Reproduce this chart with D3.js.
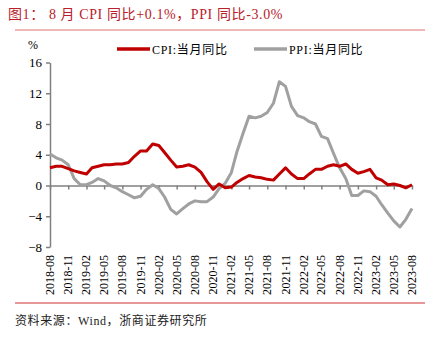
<!DOCTYPE html>
<html>
<head>
<meta charset="utf-8">
<script src="https://cdn.jsdelivr.net/npm/d3@7"></script>
<style>
  body { margin: 0; background: #fff; }
  text { font-family: "Liberation Serif", "Noto Sans CJK SC", serif; }
</style>
</head>
<body>
<div id="chart"></div>
<script>
// données : CPI et PPI, glissement annuel (%), 2018-08 -> 2023-08
const months = d3.timeMonths(new Date(2018, 7, 1), new Date(2023, 8, 1));
const cpi = [2.3, 2.5, 2.5, 2.2, 1.9,
  1.7, 1.5, 2.3, 2.5, 2.7, 2.7, 2.8, 2.8, 3.0, 3.8, 4.5, 4.5,
  5.4, 5.2, 4.3, 3.3, 2.4, 2.5, 2.7, 2.4, 1.7, 0.5, -0.5, 0.2,
  -0.3, -0.2, 0.4, 0.9, 1.3, 1.1, 1.0, 0.8, 0.7, 1.5, 2.3, 1.5,
  0.9, 0.9, 1.5, 2.1, 2.1, 2.5, 2.7, 2.5, 2.8, 2.1, 1.6, 1.8,
  2.1, 1.0, 0.7, 0.1, 0.2, 0.0, -0.3, 0.1];
const ppi = [4.1, 3.6, 3.3, 2.7, 0.9,
  0.1, 0.1, 0.4, 0.9, 0.6, 0.0, -0.3, -0.8, -1.2, -1.6, -1.4, -0.5,
  0.1, -0.4, -1.5, -3.1, -3.7, -3.0, -2.4, -2.0, -2.1, -2.1, -1.5, -0.4,
  0.3, 1.7, 4.4, 6.8, 9.0, 8.8, 9.0, 9.5, 10.7, 13.5, 12.9, 10.3,
  9.1, 8.8, 8.3, 8.0, 6.4, 6.1, 4.2, 2.3, 0.9, -1.3, -1.3, -0.7,
  -0.8, -1.4, -2.5, -3.6, -4.6, -5.4, -4.4, -3.0];
const yTicks = [-8, -4, 0, 4, 8, 12, 16];
const seriesNames = ["CPI:当月同比", "PPI:当月同比"];
const seriesColors = ["#c00000", "#a0a0a0"];

const W = 435, H = 339;
const svg = d3.select("#chart").append("svg")
  .attr("width", W).attr("height", H);

const x = d3.scaleTime()
  .domain([months[0], months[months.length - 1]])
  .range([50, 412]);
const y = d3.scaleLinear().domain([-8, 16]).range([247, 62.5]);

// titre
svg.append("text").attr("x", 8).attr("y", 19)
  .attr("fill", "#b8202a").style("font-size", "14px")
  .style("letter-spacing", "0.6px")
  .text("图1：  8 月 CPI 同比+0.1%，PPI 同比-3.0%");
svg.append("line").attr("x1", 15).attr("x2", 425).attr("y1", 30).attr("y2", 30)
  .attr("stroke", "#e07070").attr("stroke-width", 1);

// axe Y
const yAxis = svg.append("g").attr("transform", "translate(50,0)")
  .call(d3.axisLeft(y).tickValues(yTicks).tickSize(4).tickSizeOuter(0).tickPadding(4));
yAxis.select(".domain").attr("stroke", "#808080").attr("stroke-width", 1.5);
yAxis.selectAll(".tick line").attr("stroke", "#808080").attr("stroke-width", 1.5);
yAxis.selectAll("text").style("font-size", "13px").attr("fill", "#000")
  .style("font-family", "Liberation Serif");

svg.append("text").attr("x", 33).attr("y", 49).attr("text-anchor", "middle")
  .style("font-size", "12px").text("%");

// axe X (sur la ligne zéro)
const xAxis = svg.append("g").attr("transform", `translate(0,${y(0)})`)
  .call(d3.axisBottom(x).tickValues(months.filter((d, i) => i % 3 === 0))
    .tickSize(4).tickSizeOuter(0).tickFormat(() => ""));
xAxis.select(".domain").attr("stroke", "#808080").attr("stroke-width", 1.5);
xAxis.selectAll(".tick line").attr("stroke", "#808080").attr("stroke-width", 1.5);

// étiquettes X verticales en bas
svg.append("g").selectAll("text")
  .data(months.filter((d, i) => i % 3 === 0))
  .enter().append("text")
  .attr("transform", d => `translate(${x(d) + 4},255) rotate(-90)`)
  .attr("text-anchor", "end")
  .style("font-size", "12px")
  .text(d3.timeFormat("%Y-%m"));

// courbes
const line = d3.line().x((d, i) => x(months[i])).y(d => y(d));
[ppi, cpi].forEach((s, k) => {
  svg.append("path").datum(s)
    .attr("d", line)
    .attr("fill", "none")
    .attr("stroke", k === 0 ? seriesColors[1] : seriesColors[0])
    .attr("stroke-width", 3)
    .attr("stroke-linejoin", "round");
});

// légende
const legX = [117, 254];
seriesNames.forEach((n, i) => {
  svg.append("line").attr("x1", legX[i]).attr("x2", legX[i] + 33)
    .attr("y1", 49).attr("y2", 49)
    .attr("stroke", seriesColors[i]).attr("stroke-width", 3.5);
  svg.append("text").attr("x", legX[i] + 35).attr("y", 53.5)
    .style("font-size", "12px").style("letter-spacing", "0.7px").text(n);
});

// pied
svg.append("line").attr("x1", 15).attr("x2", 425).attr("y1", 303).attr("y2", 303)
  .attr("stroke", "#d03030").attr("stroke-width", 1);
svg.append("text").attr("x", 15).attr("y", 325)
  .style("font-size", "12px").attr("fill", "#222")
  .style("letter-spacing", "0.6px")
  .text("资料来源：Wind，浙商证券研究所");
</script>
</body>
</html>
